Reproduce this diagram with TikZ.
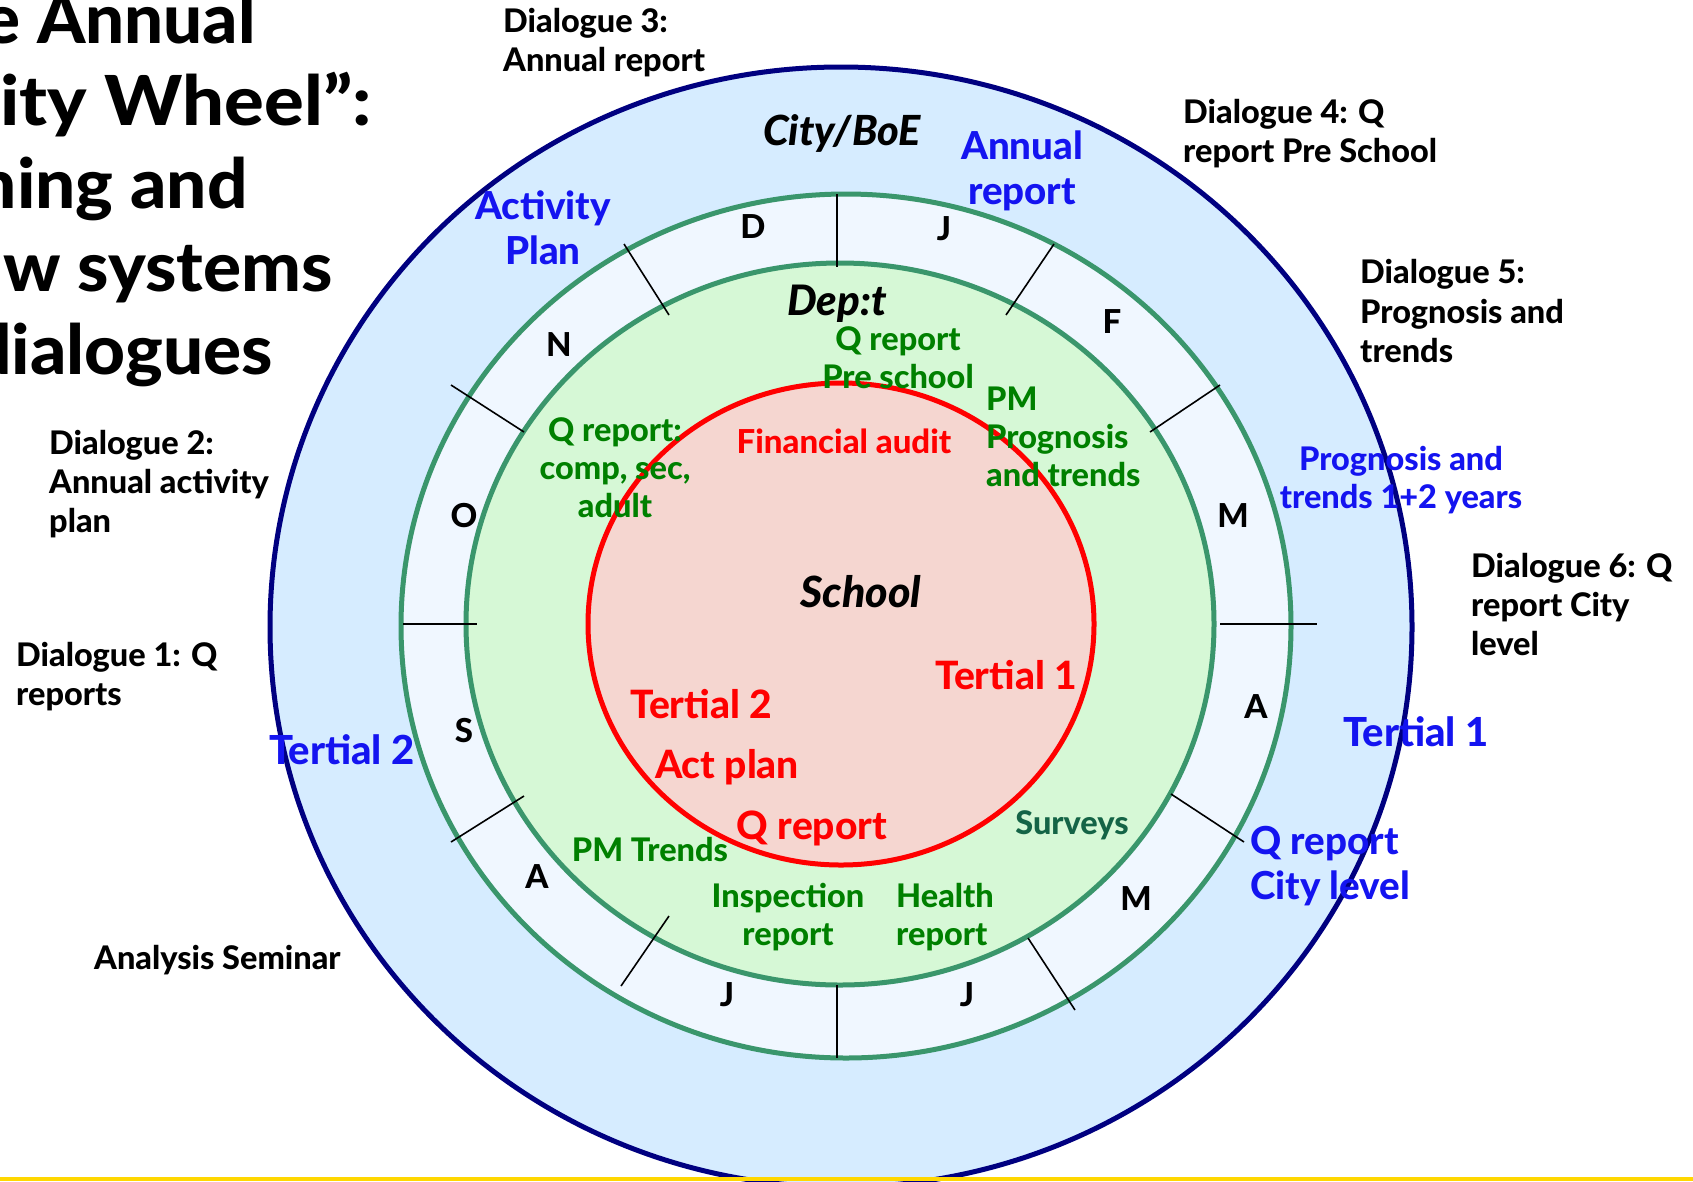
\documentclass[tikz,border=0pt]{standalone}
\usepackage{fontspec}
\setmainfont{Lato}[BoldFont={Lato Heavy}, BoldItalicFont={Lato Heavy Italic}]
\newfontfamily\ttlfont{Lato Heavy}[FakeStretch=1.075]
\newfontfamily\ttlfontb{Lato Heavy}[FakeStretch=1.03]
\newfontfamily\ttlfonta{Lato Heavy}
\definecolor{navy}{RGB}{0,0,128}
\definecolor{skyfill}{RGB}{214,236,255}
\definecolor{ringfill}{RGB}{240,247,255}
\definecolor{greenfill}{RGB}{214,248,214}
\definecolor{pinkfill}{RGB}{245,214,208}
\definecolor{ringgreen}{RGB}{58,150,108}
\definecolor{myblue}{RGB}{20,20,240}
\definecolor{mygreen}{RGB}{0,128,0}
\definecolor{teal2}{RGB}{20,100,70}
\definecolor{myred}{RGB}{255,0,0}
\definecolor{gold}{RGB}{255,215,0}
\tikzset{
  dlg/.style={font=\fontsize{32.5}{39}\selectfont\bfseries, align=left, inner sep=0pt, anchor=west},
  blu/.style={text=myblue, font=\fontsize{38.5}{45}\selectfont\bfseries, align=center, inner sep=0pt},
  blubig/.style={text=myblue, font=\fontsize{40}{45}\selectfont\bfseries, align=center, inner sep=0pt},
  blusmall/.style={text=myblue, font=\fontsize{32.5}{38}\selectfont\bfseries, align=center, inner sep=0pt},
  mon/.style={font=\fontsize{33}{40}\selectfont\bfseries, inner sep=0pt},
  grn/.style={text=mygreen, font=\fontsize{32.5}{38}\selectfont\bfseries, align=center, inner sep=0pt},
  rd/.style={text=myred, font=\fontsize{39}{44}\selectfont\bfseries, inner sep=0pt},
  rdsmall/.style={text=myred, font=\fontsize{33}{36}\selectfont\bfseries, inner sep=0pt},
  ttl/.style={font=\fontsize{69}{83}\selectfont\ttlfontb, inner sep=0pt, anchor=base east},
  tick/.style={black, line width=1.6pt},
}
\begin{document}
\begin{tikzpicture}[x=1pt,y=-1pt]
\useasboundingbox (0,0) rectangle (1693,1181);
\clip (0,0) rectangle (1693,1181);
\fill[white] (0,0) rectangle (1693,1181);
% rings
\filldraw[fill=skyfill, draw=navy, line width=5pt] (841,627) ellipse [x radius=571pt, y radius=560pt];
\filldraw[fill=ringfill, draw=ringgreen, line width=5pt] (846,626) ellipse [x radius=445pt, y radius=432pt];
\filldraw[fill=greenfill, draw=ringgreen, line width=5pt] (840,624) ellipse [x radius=374pt, y radius=361pt];
\filldraw[fill=pinkfill, draw=myred, line width=5pt] (841,624) ellipse [x radius=253pt, y radius=241pt];
% month ticks
\draw[tick] (837,194) -- (837,267);
\draw[tick] (1054,244) -- (1006,315);
\draw[tick] (1220,385) -- (1150,432);
\draw[tick] (1220,624) -- (1317,624);
\draw[tick] (1171,794) -- (1244,842);
\draw[tick] (1028,938) -- (1075,1010);
\draw[tick] (837,985) -- (837,1058);
\draw[tick] (669,916) -- (621,986);
\draw[tick] (524,796) -- (451,842);
\draw[tick] (403,624) -- (477,624);
\draw[tick] (451,385) -- (524,432);
\draw[tick] (624,244) -- (669,315);
% title
\node[ttl, font=\fontsize{69}{83}\selectfont\ttlfonta] (t1) at (256,43) {e Annual};
\node[ttl, font=\fontsize{69}{83}\selectfont\ttlfont] (t2) at (372,125) {ity Wheel”:};
\node[ttl] (t3) at (248,208) {ning and};
\node[ttl] (t4) at (333,291) {w systems};
\node[ttl] (t5) at (273,374) {dialogues};
% dialogues
\node[dlg] (d3) at (503,43) {Dialogue 3:\\Annual report};
\node[dlg] (d4) at (1183,134) {Dialogue 4: Q\\report Pre School};
\node[dlg] (d5) at (1360,311) {Dialogue 5:\\Prognosis and\\trends};
\node[dlg] (d6) at (1471,604) {Dialogue 6: Q\\report City\\level};
\node[dlg] (d2) at (49,484) {Dialogue 2:\\Annual activity\\plan};
\node[dlg] (d1) at (16,677) {Dialogue 1: Q\\reports};
\node[dlg] (as) at (94,960) {Analysis Seminar};
% outer ring labels
\node[font=\fontsize{41.5}{44}\selectfont\bfseries\itshape, inner sep=0pt] (city) at (842,133) {City/BoE};
\node[blu] (ap) at (543,228) {Activity\\Plan};
\node[blu] (ar) at (1022,171) {Annual\\report};
\node[blusmall] (pt) at (1401,480) {Prognosis and\\trends 1+2 years};
\node[blubig] (bt1) at (1416,732) {Tertial 1};
\node[blubig] (bt2) at (342,750) {Tertial 2};
\node[blu, align=left, anchor=west] (qc) at (1250,866) {Q report\\City level};
% months
\node[mon] (mD) at (753,227) {D};
\node[mon] (mJ1) at (944,229) {J};
\node[mon] (mF) at (1112,322) {F};
\node[mon] (mM1) at (1233,516) {M};
\node[mon] (mA1) at (1256,707) {A};
\node[mon] (mM2) at (1136,899) {M};
\node[mon] (mJ2) at (967,995) {J};
\node[mon] (mJ3) at (727,995) {J};
\node[mon] (mA2) at (537,877) {A};
\node[mon] (mS) at (464,731) {S};
\node[mon] (mO) at (464,516) {O};
\node[mon] (mN) at (559,345) {N};
% dep't ring
\node[font=\fontsize{42}{44}\selectfont\bfseries\itshape, inner sep=0pt] (dep) at (837,304) {Dep:t};
\node[grn] (qps) at (898,358) {Q report\\Pre school};
\node[grn, align=left, anchor=west] (pm) at (986,437) {PM\\Prognosis\\and trends};
\node[grn] (qcs) at (615,468) {Q report:\\comp, sec,\\adult};
\node[grn] (pmt) at (650,849) {PM Trends};
\node[grn, text=teal2] (sv) at (1072,825) {Surveys};
\node[grn] (ir) at (788,917) {Inspection\\report};
\node[grn, align=left, anchor=west] (hr) at (896,917) {Health\\report};
% school
\node[font=\fontsize{43}{50}\selectfont\bfseries\itshape, inner sep=0pt] (sch) at (861,592) {School};
\node[rdsmall] (fa) at (844,441) {Financial audit};
\node[rd] (rt1) at (1006,675) {Tertial 1};
\node[rd] (rt2) at (701,704) {Tertial 2};
\node[rd] (act) at (727,767) {Act plan};
\node[rd] (rq) at (812,828) {Q report};
% bottom rule
\fill[gold] (0,1177) rectangle (1693,1181);
\end{tikzpicture}
\end{document}
